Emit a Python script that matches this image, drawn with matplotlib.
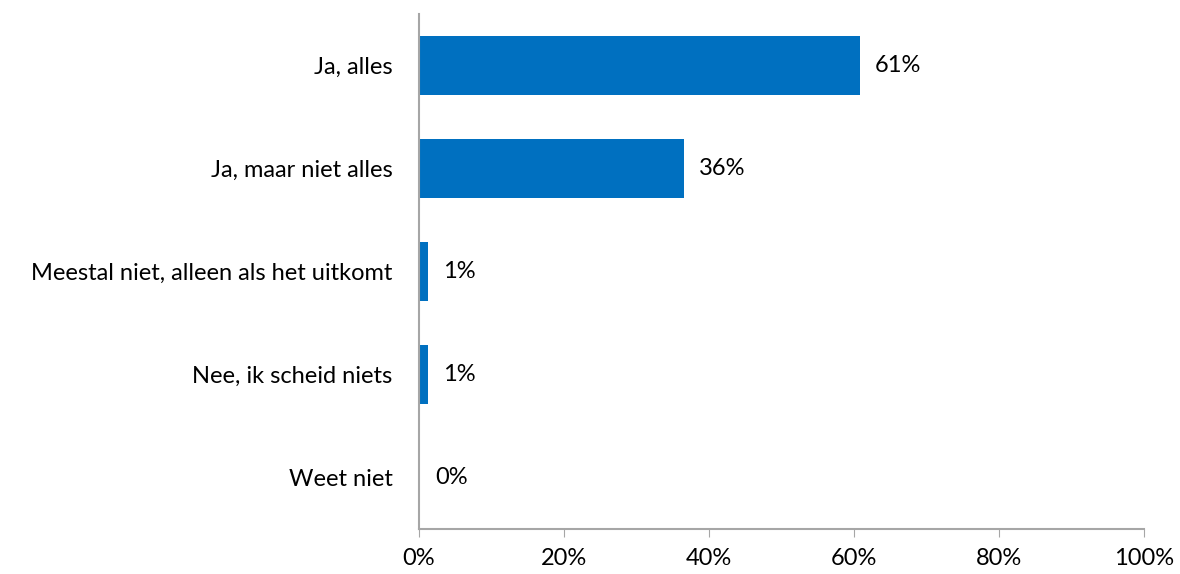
import matplotlib.pyplot as plt
from matplotlib.ticker import FuncFormatter

# antwoorden en percentages
categories = ["Ja, alles", "Ja, maar niet alles", "Meestal niet, alleen als het uitkomt",
              "Nee, ik scheid niets", "Weet niet"]
values = [60.8, 36.5, 1.2, 1.2, 0.1]
labels = ["61%", "36%", "1%", "1%", "0%"]

plt.rcParams["font.family"] = ["Lato", "DejaVu Sans"]
fs = 17

fig = plt.figure(figsize=(11.8, 5.74), dpi=100)
ax = fig.add_axes([419 / 1180, 1 - 529 / 574, 725 / 1180, 515 / 574])

pos = list(range(len(categories)))
ax.barh(pos, values, height=0.57, color="#0070C0")
for p, v, lab in zip(pos, values, labels):
    ax.text(v + 2.1, p, lab, va="center", ha="left", fontsize=fs, color="black")

ax.set_xlim(0, 100)
ax.set_ylim(len(categories) - 0.5, -0.5)
ax.set_yticks(pos)
ax.set_yticklabels(categories, fontsize=fs)
ax.set_xticks([0, 20, 40, 60, 80, 100])
ax.xaxis.set_major_formatter(FuncFormatter(lambda x, _: f"{x:.0f}%"))
ax.tick_params(axis="x", labelsize=fs, length=6, color="#a6a6a6", pad=8, direction="out")
ax.tick_params(axis="y", length=0, pad=19)

for s in ["top", "right"]:
    ax.spines[s].set_visible(False)
for s in ["left", "bottom"]:
    ax.spines[s].set_color("#a6a6a6")
    ax.spines[s].set_linewidth(1.5)

fig.savefig("out.png", dpi=100)
